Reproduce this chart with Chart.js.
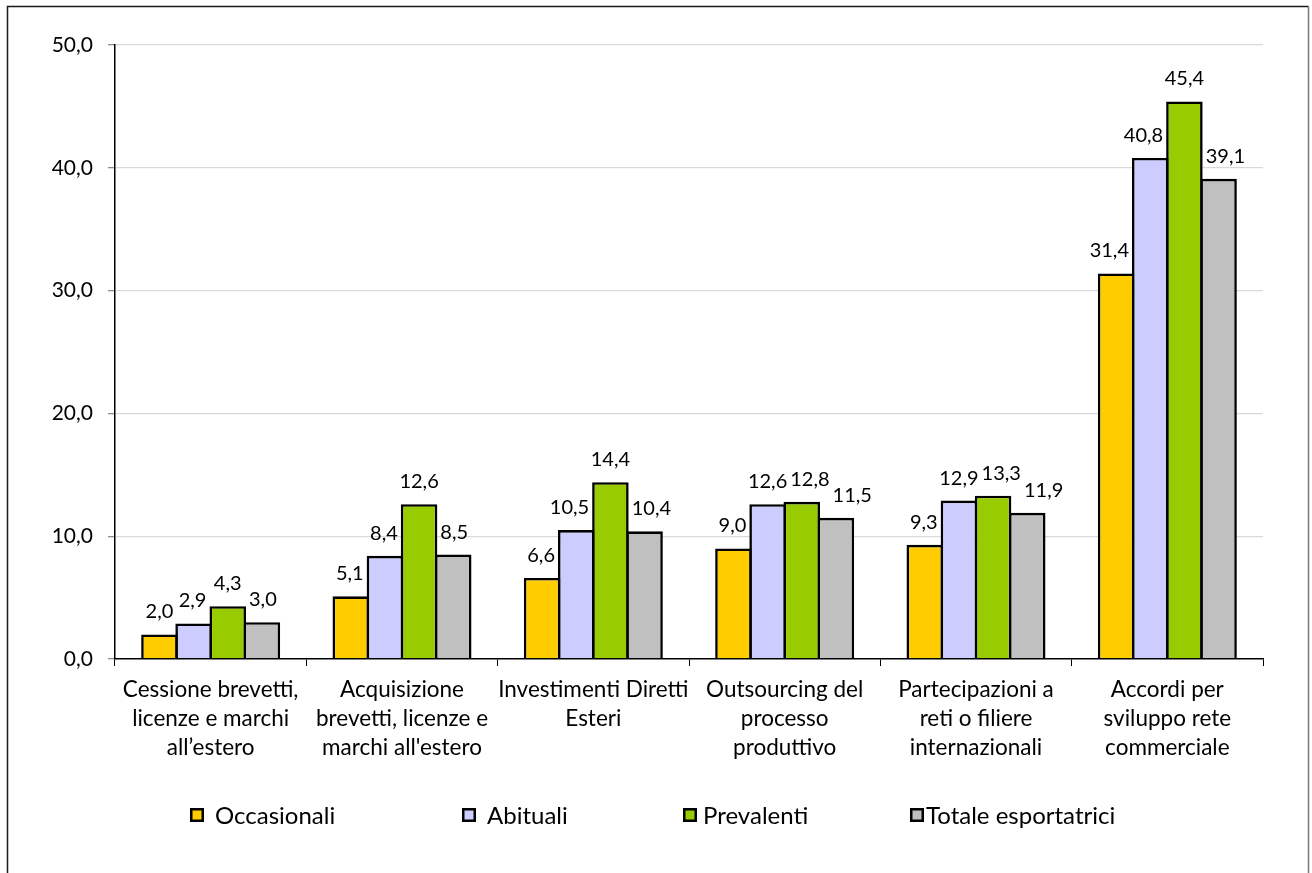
<!DOCTYPE html>
<html lang="it">
<head>
<meta charset="utf-8">
<title>Strumenti di internazionalizzazione</title>
<script src="https://cdn.jsdelivr.net/npm/chart.js@4/dist/chart.umd.min.js"></script>
<style>
  html, body { margin: 0; padding: 0; background: #ffffff; }
  #wrap { position: relative; width: 1312px; height: 873px; }
</style>
</head>
<body>
<div id="wrap"><canvas id="chart" width="1312" height="873"></canvas></div>
<script>
// Categories (multi-line labels)
const categories = [
  ['Cessione brevetti,', 'licenze e marchi', 'all\u2019estero'],
  ['Acquisizione', 'brevetti, licenze e', "marchi all'estero"],
  ['Investimenti Diretti', 'Esteri'],
  ['Outsourcing del', 'processo', 'produttivo'],
  ['Partecipazioni a', 'reti o filiere', 'internazionali'],
  ['Accordi per', 'sviluppo rete', 'commerciale']
];

// Series values (%)
const occasionali = [2.0, 5.1, 6.6, 9.0, 9.3, 31.4];
const abituali    = [2.9, 8.4, 10.5, 12.6, 12.9, 40.8];
const prevalenti  = [4.3, 12.6, 14.4, 12.8, 13.3, 45.4];
const totale      = [3.0, 8.5, 10.4, 11.5, 11.9, 39.1];

const seriesNames = ['Occasionali', 'Abituali', 'Prevalenti', 'Totale esportatrici'];
const seriesColors = ['#FFCC00', '#CCCCFF', '#99CC00', '#C0C0C0'];

// Y axis range
const yMin = 0, yMax = 50, yStep = 10;

const FONT = 'Lato, "Open Sans", sans-serif';
const fmt = v => v.toFixed(1).replace('.', ',');

// Outer frame around the chart
const framePlugin = {
  id: 'frame',
  beforeDraw(chart) {
    const ctx = chart.ctx;
    ctx.save();
    ctx.fillStyle = '#ffffff';
    ctx.fillRect(0, 0, chart.width, chart.height);
    ctx.lineWidth = 1.5;
    ctx.strokeStyle = '#1a1a1a';
    ctx.beginPath();
    ctx.moveTo(7.5, chart.height + 5);
    ctx.lineTo(7.5, 6.5);
    ctx.lineTo(1308.5, 6.5);
    ctx.stroke();
    ctx.strokeStyle = '#777777';
    ctx.beginPath();
    ctx.moveTo(1308.5, 6.5);
    ctx.lineTo(1308.5, chart.height + 5);
    ctx.stroke();
    ctx.restore();
  }
};

// Value labels above each bar; labels in a group are nudged sideways
// so they do not collide with each other or with a taller neighbouring bar.
const valueLabelPlugin = {
  id: 'valueLabels',
  afterDatasetsDraw(chart) {
    const ctx = chart.ctx;
    const ds = chart.data.datasets;
    const metas = ds.map((d, i) => chart.getDatasetMeta(i));
    const nCat = chart.data.labels.length;
    const asc = 14, desc = 4, margin = 3, lift = 16;
    ctx.save();
    ctx.font = '20px ' + FONT;
    ctx.fillStyle = '#000000';
    ctx.textAlign = 'center';
    ctx.textBaseline = 'alphabetic';
    for (let j = 0; j < nCat; j++) {
      const placed = [];
      metas.forEach((meta, i) => {
        const bar = meta.data[j];
        const text = fmt(ds[i].data[j]);
        const w = ctx.measureText(text).width;
        const base = bar.y - lift;
        const top = base - asc, bottom = base + desc;
        let cx = bar.x;
        // avoid earlier labels in the same group
        placed.forEach(p => {
          const vOverlap = top < p.bottom && bottom > p.top;
          if (vOverlap && cx - w / 2 < p.right + margin) {
            cx = p.right + margin + w / 2;
          }
        });
        // avoid taller neighbouring bars
        const prev = i > 0 ? metas[i - 1].data[j] : null;
        const next = i < metas.length - 1 ? metas[i + 1].data[j] : null;
        if (next && next.y < bottom) {
          const edge = next.x - next.width / 2;
          if (cx + w / 2 > edge - margin) cx = edge - margin - w / 2;
        }
        if (prev && prev.y < bottom) {
          const edge = prev.x + prev.width / 2;
          if (cx - w / 2 < edge + margin) cx = edge + margin + w / 2;
        }
        placed.push({ left: cx - w / 2, right: cx + w / 2, top, bottom });
        ctx.fillText(text, cx, base);
      });
    }
    ctx.restore();
  }
};

// Legend row below the axis labels: swatch positions and swatch-to-text gaps
const legendSwatchX = [190, 462, 683, 910];
const legendTextGap = [11, 11, 6, 2];
const legendPlugin = {
  id: 'bottomLegend',
  afterDraw(chart) {
    const ctx = chart.ctx;
    const ds = chart.data.datasets;
    const box = 14, cy = 815;
    ctx.save();
    ctx.font = '24px ' + FONT;
    ds.forEach((d, i) => {
      const x = legendSwatchX[i];
      ctx.fillStyle = d.backgroundColor;
      ctx.fillRect(x, cy - box / 2, box, box);
      ctx.lineWidth = 2.5;
      ctx.strokeStyle = '#000000';
      ctx.strokeRect(x + 1.25, cy - box / 2 + 1.25, box - 2.5, box - 2.5);
      ctx.fillStyle = '#000000';
      ctx.textAlign = 'left';
      ctx.textBaseline = 'middle';
      ctx.fillText(d.label, x + box + legendTextGap[i], cy + 1);
    });
    ctx.restore();
  }
};

const seriesData = [occasionali, abituali, prevalenti, totale];

new Chart(document.getElementById('chart'), {
  type: 'bar',
  data: {
    labels: categories,
    datasets: seriesData.map((vals, i) => ({
      label: seriesNames[i],
      data: vals,
      backgroundColor: seriesColors[i],
      borderColor: '#000000',
      borderWidth: 2.6,
      borderSkipped: 'start',
      // slightly over 1 so neighbouring bars share a single outline
      barPercentage: 1.07,
      categoryPercentage: 0.714
    }))
  },
  options: {
    responsive: false,
    animation: false,
    devicePixelRatio: 1,
    layout: { padding: { left: 15, top: 45, right: 49, bottom: 0 } },
    plugins: {
      legend: { display: false },
      tooltip: { enabled: false },
      title: { display: false }
    },
    scales: {
      x: {
        afterFit(scale) { scale.height = 214; },
        offset: true,
        grid: {
          offset: true,
          drawOnChartArea: false,
          drawTicks: true,
          tickLength: 7,
          tickColor: '#000000',
          lineWidth: 1
        },
        border: { display: true, color: '#000000', width: 1.5, z: 1 },
        ticks: {
          color: '#000000',
          font: { family: FONT, size: 22.5, lineHeight: 1.29 },
          padding: 9,
          maxRotation: 0,
          autoSkip: false
        }
      },
      y: {
        afterFit(scale) { scale.width = 100; },
        min: yMin,
        max: yMax,
        grid: {
          color: ctx => (ctx.tick && ctx.tick.value === 0) ? 'rgba(0,0,0,0)' : '#d9d9d9',
          lineWidth: 1.3,
          drawTicks: true,
          tickLength: 7,
          tickColor: '#8c8c8c'
        },
        border: { display: true, color: '#000000', width: 1.5 },
        ticks: {
          stepSize: yStep,
          color: '#000000',
          font: { family: FONT, size: 21 },
          padding: 15,
          callback: v => fmt(v)
        }
      }
    }
  },
  plugins: [framePlugin, valueLabelPlugin, legendPlugin]
});
</script>
</body>
</html>
